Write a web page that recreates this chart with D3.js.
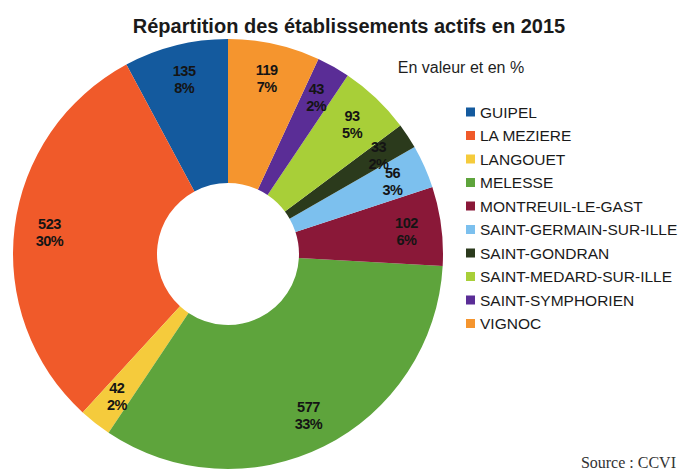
<!DOCTYPE html>
<html>
<head>
<meta charset="utf-8">
<script src="https://cdn.jsdelivr.net/npm/d3@7"></script>
<style>
  html, body { margin: 0; padding: 0; background: #fff; }
  svg { display: block; }
</style>
</head>
<body>
<div id="chart"></div>
<script>
const communes = ['GUIPEL', 'LA MEZIERE', 'LANGOUET', 'MELESSE', 'MONTREUIL-LE-GAST',
  'SAINT-GERMAIN-SUR-ILLE', 'SAINT-GONDRAN', 'SAINT-MEDARD-SUR-ILLE', 'SAINT-SYMPHORIEN', 'VIGNOC'];
const etablissements = [135, 523, 42, 577, 102, 56, 33, 93, 43, 119];
const colors = ['#145a9e', '#f05a2a', '#f5cb3c', '#5ea43c', '#8a1838',
  '#7cc0ee', '#2b3a1c', '#a8cf38', '#5a2d96', '#f5952e'];

const width = 684;
const height = 472;
const cx = 228, cy = 254;
const outerR = 215, innerR = 71, labelR = 180;

const svg = d3.select('#chart')
  .append('svg')
  .attr('width', width)
  .attr('height', height);

const data = communes.map((c, i) => ({ name: c, value: etablissements[i], color: colors[i] }));
const total = d3.sum(etablissements);

// slices go counter-clockwise from 12 o'clock
const pie = d3.pie()
  .value(d => d.value)
  .sort(null)
  .startAngle(0)
  .endAngle(-2 * Math.PI);

const arc = d3.arc().innerRadius(innerR).outerRadius(outerR);
const labelArc = d3.arc().innerRadius(labelR).outerRadius(labelR);

const g = svg.append('g').attr('transform', `translate(${cx},${cy})`);
const arcs = pie(data);

g.selectAll('path')
  .data(arcs)
  .enter()
  .append('path')
  .attr('d', arc)
  .attr('fill', d => d.data.color);

const labels = g.selectAll('.lbl')
  .data(arcs)
  .enter()
  .append('text')
  .attr('class', 'lbl')
  .attr('text-anchor', 'middle')
  .style('font-family', '"Liberation Sans", Arial, sans-serif')
  .style('font-weight', 'bold')
  .style('font-size', '14.5px')
  .style('letter-spacing', '-0.5px')
  .attr('fill', '#141414');

labels.append('tspan')
  .attr('x', d => labelArc.centroid(d)[0])
  .attr('y', d => labelArc.centroid(d)[1] - 3)
  .text(d => d.data.value);

labels.append('tspan')
  .attr('x', d => labelArc.centroid(d)[0])
  .attr('y', d => labelArc.centroid(d)[1] + 14)
  .text(d => Math.round(d.data.value / total * 100) + '%');

// title & subtitle
svg.append('text')
  .attr('x', 349)
  .attr('y', 33)
  .attr('text-anchor', 'middle')
  .style('font-family', '"Liberation Sans", Arial, sans-serif')
  .style('font-weight', 'bold')
  .style('font-size', '20px')
  .attr('fill', '#1a1a1a')
  .text('Répartition des établissements actifs en 2015');

svg.append('text')
  .attr('x', 461)
  .attr('y', 73)
  .attr('text-anchor', 'middle')
  .style('font-family', '"Liberation Sans", Arial, sans-serif')
  .style('font-size', '16px')
  .attr('fill', '#1e1e1e')
  .text('En valeur et en %');

// legend
const legend = svg.append('g').attr('transform', 'translate(466,112)');
const rows = legend.selectAll('g')
  .data(data)
  .enter()
  .append('g')
  .attr('transform', (d, i) => `translate(0,${i * 23.5})`);

rows.append('rect')
  .attr('x', 0)
  .attr('y', -4.5)
  .attr('width', 9)
  .attr('height', 9)
  .attr('fill', d => d.color);

rows.append('text')
  .attr('x', 14)
  .attr('y', 5.5)
  .style('font-family', '"Liberation Sans", Arial, sans-serif')
  .style('font-size', '15.5px')
  .attr('fill', '#1a1a1a')
  .text(d => d.name);

svg.append('text')
  .attr('x', 676)
  .attr('y', 468)
  .attr('text-anchor', 'end')
  .style('font-family', '"Liberation Serif", "Times New Roman", serif')
  .style('font-size', '16px')
  .attr('fill', '#333')
  .text('Source : CCVI');
</script>
</body>
</html>
